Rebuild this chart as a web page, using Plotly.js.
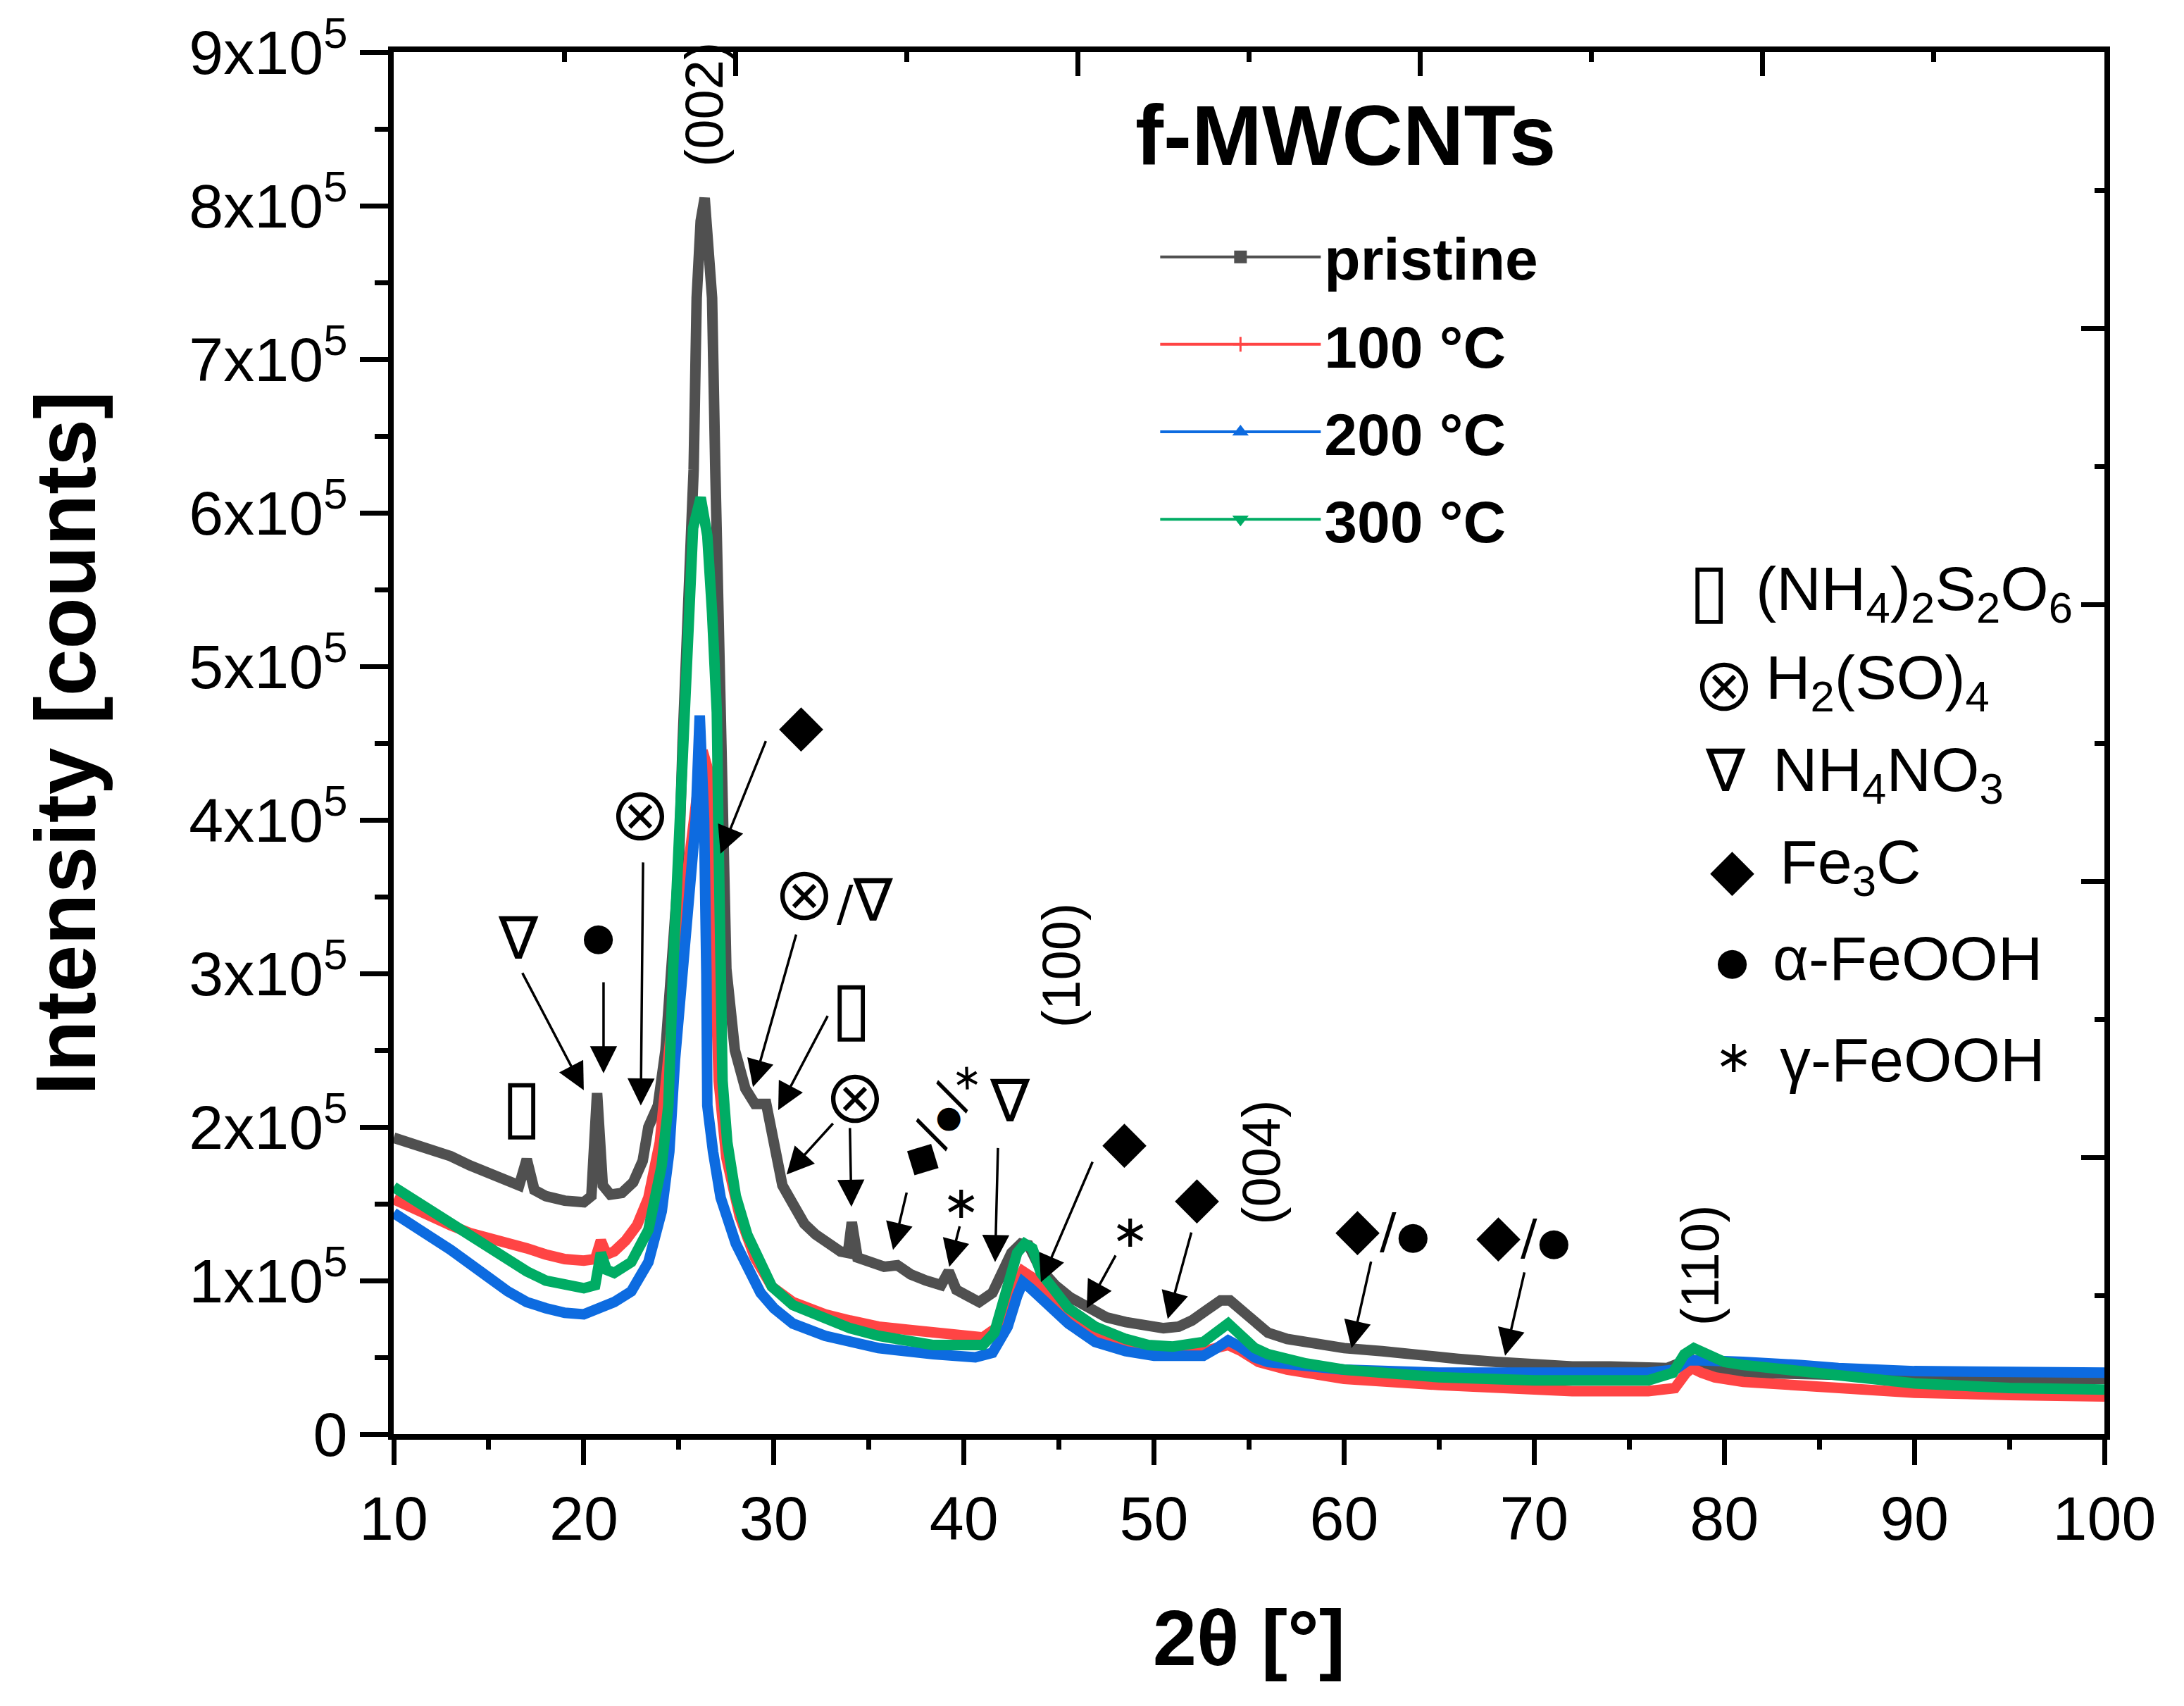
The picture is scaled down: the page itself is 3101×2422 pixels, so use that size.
<!DOCTYPE html>
<html>
<head>
<meta charset="utf-8">
<script src="https://cdn.plot.ly/plotly-3.0.1.min.js"></script>
<style>html,body{margin:0;padding:0;background:#fff}#chart{width:3101px;height:2422px}</style>
</head>
<body>
<div id="chart"></div>
<script>
// ---------------- DATA (intensity values in units of 1e5 counts) ----------------
const SCALE = 1e5;
const seriesNames = ['pristine', '100 °C', '200 °C', '300 °C'];

const xPristine = [10,11,12,13,14,15,16,16.6,17.0,17.4,18,19,20,20.4,20.7,21.0,21.4,22,22.6,23.1,23.4,23.9,24.3,24.7,25.0,25.2,25.5,25.78,25.94,26.15,26.36,26.55,26.75,26.92,27.08,27.25,27.4,27.5,27.95,28.5,29.0,29.6,30.0,30.45,31.0,31.6,32.2,32.8,33.5,33.9,34.1,34.4,35,35.8,36.5,37.2,38,38.8,39.2,39.6,40.2,40.8,41.5,42,42.5,43,43.4,44,44.8,45.6,46.5,47.5,48.5,49.5,50.5,51.3,52,52.8,53.5,54,54.6,55.3,56,57,58,59,60,62,64,66,68,70,72,74,76,77,77.6,78.2,78.8,79.5,81,84,88,92,96,100];
const iPristine = [1.93,1.89,1.85,1.81,1.75,1.70,1.64,1.62,1.79,1.59,1.55,1.52,1.51,1.55,2.22,1.62,1.56,1.57,1.64,1.78,2.00,2.14,2.50,3.10,3.70,4.50,5.40,6.28,7.40,7.90,8.05,7.80,7.40,6.28,5.49,4.70,4.10,3.03,2.50,2.25,2.15,2.15,1.90,1.62,1.50,1.37,1.30,1.24,1.19,1.18,1.38,1.15,1.12,1.09,1.10,1.04,1.00,0.97,1.06,0.94,0.90,0.86,0.92,1.05,1.18,1.24,1.23,1.08,0.97,0.89,0.82,0.76,0.73,0.71,0.69,0.70,0.74,0.81,0.87,0.87,0.80,0.72,0.66,0.62,0.60,0.58,0.56,0.54,0.51,0.49,0.47,0.45,0.44,0.44,0.43,0.43,0.46,0.49,0.46,0.42,0.40,0.39,0.38,0.37,0.36,0.36];

const x100C = [10,11,12,13,14,15,16,17,18,19,20,20.6,20.9,21.2,21.6,22.2,22.8,23.4,24.0,24.5,24.9,25.3,25.7,25.95,26.25,26.6,26.75,26.9,27.1,27.5,28.2,29.0,29.9,31,32.7,34,35.5,37,38.4,40,41,41.8,42.5,43.1,43.6,44.1,45.5,46.9,48,49.7,51,52.6,53.3,53.9,54.6,55.5,57,60,65,70,72,76,77.4,78.0,78.3,78.8,79.5,81,84,86,90,95,100];
const i100C = [1.53,1.47,1.41,1.36,1.31,1.28,1.25,1.21,1.17,1.14,1.13,1.14,1.26,1.17,1.19,1.26,1.36,1.54,1.90,2.44,3.00,3.50,3.90,4.20,4.45,4.30,3.80,3.00,2.30,1.80,1.42,1.15,0.96,0.86,0.78,0.74,0.70,0.68,0.66,0.64,0.63,0.70,0.90,1.06,1.02,0.95,0.76,0.64,0.59,0.55,0.53,0.54,0.57,0.58,0.54,0.47,0.42,0.36,0.32,0.29,0.28,0.28,0.30,0.40,0.43,0.40,0.37,0.34,0.32,0.31,0.27,0.255,0.245];

const x200C = [10,11,12,13,14,15,16,17,18,19,20,20.9,21.6,22.5,23.4,24.1,24.5,24.8,25.2,25.6,25.89,26.1,26.33,26.45,26.5,26.8,27.2,28.0,29.3,30,31,32.7,35.5,38.4,40.6,41.5,42.3,42.8,43.1,43.5,44.05,45.5,46.9,48.5,50,52.6,53.3,53.9,54.5,55.3,56,58,60,65,70,76,77.4,78.1,78.8,80,81,84,86,90,95,100];
const i200C = [1.44,1.35,1.28,1.20,1.10,1.02,0.93,0.86,0.82,0.79,0.78,0.82,0.86,0.93,1.12,1.45,1.84,2.44,3.00,3.60,4.00,4.68,4.00,3.00,2.14,1.84,1.54,1.24,0.92,0.82,0.72,0.64,0.56,0.52,0.50,0.53,0.70,0.90,0.99,0.95,0.88,0.72,0.60,0.54,0.51,0.51,0.56,0.61,0.57,0.50,0.47,0.44,0.42,0.40,0.40,0.40,0.42,0.48,0.48,0.48,0.47,0.45,0.43,0.41,0.40,0.40];

const x300C = [10,11,12,13,14,15,16,17,18,19,20,20.6,20.9,21.2,21.6,22.5,23.4,24.1,24.45,24.7,25.1,25.3,25.45,25.75,26.15,26.5,26.75,27.0,27.1,27.15,27.3,27.55,28.0,28.6,29.3,29.9,31,32.7,34,35.5,37,38.4,40,41,41.6,42.3,42.8,43.2,43.6,44.05,45.5,46.9,48.5,49.7,51,52.6,53.3,53.9,54.6,55.3,56,58,60,65,70,76,77.3,77.9,78.4,79,80,81,84,86,90,95,100];
const i300C = [1.61,1.53,1.45,1.37,1.28,1.20,1.12,1.06,1.00,0.97,0.95,0.97,1.18,1.07,1.05,1.12,1.33,1.75,2.14,3.03,4.10,4.70,5.20,5.90,6.10,5.85,5.35,4.70,3.80,3.00,2.30,1.90,1.55,1.30,1.12,0.96,0.84,0.75,0.69,0.64,0.61,0.58,0.58,0.58,0.66,0.95,1.18,1.24,1.21,1.05,0.82,0.70,0.62,0.58,0.57,0.60,0.67,0.72,0.64,0.56,0.52,0.46,0.42,0.37,0.35,0.35,0.40,0.52,0.56,0.52,0.47,0.45,0.41,0.38,0.33,0.30,0.29];

const xTickVals = [10,20,30,40,50,60,70,80,90,100];
const yTickVals = [0,1,2,3,4,5,6,7,8,9];
const yTickText = ['0','1x10<sup>5</sup>','2x10<sup>5</sup>','3x10<sup>5</sup>','4x10<sup>5</sup>','5x10<sup>5</sup>','6x10<sup>5</sup>','7x10<sup>5</sup>','8x10<sup>5</sup>','9x10<sup>5</sup>'];

const phaseNames = ['(NH<sub>4</sub>)<sub>2</sub>S<sub>2</sub>O<sub>6</sub>','H<sub>2</sub>(SO)<sub>4</sub>','NH<sub>4</sub>NO<sub>3</sub>','Fe<sub>3</sub>C','α-FeOOH','γ-FeOOH'];
const phaseSymbols = ['▯','⊗','∇','◆','●','∗'];
const millerLabels = ['(002)','(100)','(004)','(110)'];

// ---------------- STYLE ----------------
const FONT = 'Liberation Sans, Arial, Helvetica, sans-serif';
const SYMFONT = 'DejaVu Sans, Liberation Sans, sans-serif';
const THINFONT = 'Noto Sans CJK SC, Noto Sans, DejaVu Sans, sans-serif';
const colors = ['#505050', '#FF4444', '#0D6BE0', '#00AC64'];
const legendSymbols = ['square', 'cross-thin', 'triangle-up', 'triangle-down'];
const symSize = [105, 92, 84, 82, 54, 64];   // per phase symbol glyph size
const symFont = [SYMFONT, THINFONT, SYMFONT, SYMFONT, SYMFONT, SYMFONT];
const xs = [xPristine, x100C, x200C, x300C];
const is = [iPristine, i100C, i200C, i300C];

const traces = [];
for (let k = 0; k < 4; k++) {
  traces.push({
    x: xs[k], y: is[k].map(v => v * SCALE),
    type: 'scatter', mode: 'lines',
    line: {color: colors[k], width: 15},
    showlegend: false, hoverinfo: 'skip'
  });
}
for (let k = 0; k < 4; k++) {
  traces.push({
    x: [null], y: [null], xaxis: 'x2', yaxis: 'y2',
    type: 'scatter', mode: 'lines+markers',
    name: '<b>' + seriesNames[k] + '</b>',
    legendgroup: 'g' + k,
    line: {color: colors[k], width: 4},
    marker: {symbol: legendSymbols[k], size: 15, color: colors[k], line: {color: colors[k], width: 3}}
  });
}

// ---------------- ANNOTATIONS ----------------
const ann = [];
function dataText(text, x, y, size, opts) {
  ann.push(Object.assign({text: text, x: x, y: y * SCALE, xref: 'x', yref: 'y', showarrow: false,
    font: {family: FONT, size: size, color: '#000'}, xanchor: 'center', yanchor: 'middle'}, opts || {}));
}
function symSpan(k, scale) {
  return '<span style="font-size:' + Math.round(symSize[k] * (scale || 1)) + 'px;font-family:' + symFont[k] + '">' + phaseSymbols[k] + '</span>';
}
function sym(k, x, y) {
  ann.push({text: phaseSymbols[k], x: x, y: y * SCALE, xref: 'x', yref: 'y', showarrow: false,
    font: {family: symFont[k], size: symSize[k], color: '#000'}, xanchor: 'center', yanchor: 'middle'});
}
function symGroup(ks, x, y, angle, scale) {
  const txt = ks.map(k => symSpan(k, scale)).join('<span style="font-size:70px">/</span>');
  ann.push({text: txt, x: x, y: y * SCALE, xref: 'x', yref: 'y', showarrow: false, textangle: angle || 0,
    font: {family: SYMFONT, size: 60, color: '#000'}, xanchor: 'center', yanchor: 'middle'});
}
function arrow(x0, y0, x1, y1) {
  ann.push({text: '', x: x1, y: y1 * SCALE, ax: x0, ay: y0 * SCALE, xref: 'x', yref: 'y', axref: 'x', ayref: 'y',
    showarrow: true, arrowhead: 2, arrowsize: 2.2, arrowwidth: 3.5, arrowcolor: '#000', standoff: 0});
}

// title
dataText('<b>f-MWCNTs</b>', 60.09, 8.46, 120);
// Miller indices (rotated)
dataText(millerLabels[0], 26.30, 8.66, 76, {textangle: -90});
dataText(millerLabels[1], 45.09, 3.05, 76, {textangle: -90});
dataText(millerLabels[2], 55.60, 1.77, 76, {textangle: -90});
dataText(millerLabels[3], 78.70, 1.10, 76, {textangle: -90});

// phase markers inside the plot
sym(0, 16.74, 2.14);
sym(2, 16.56, 3.23);
sym(4, 20.78, 3.24);
sym(1, 22.97, 4.05);
sym(3, 31.42, 4.62);
symGroup([1, 2], 33.12, 3.53, 0, 1);
sym(0, 34.08, 2.78);
sym(1, 34.27, 2.21);
symGroup([3, 4, 5], 38.71, 2.06, -62, 0.8);
sym(5, 39.86, 1.51);
sym(2, 42.42, 2.17);
sym(3, 48.46, 1.91);
sym(5, 48.76, 1.32);
sym(3, 52.24, 1.55);
symGroup([3, 4], 62.02, 1.34, 0, 1);
symGroup([3, 4], 69.43, 1.30, 0, 1);

// arrows (tail -> head)
arrow(16.74, 3.01, 20.0, 2.24);
arrow(21.04, 2.95, 21.04, 2.35);
arrow(23.12, 3.73, 23.0, 2.14);
arrow(29.6, 4.52, 27.19, 3.78);
arrow(31.19, 3.26, 28.9, 2.26);
arrow(32.86, 2.73, 30.23, 2.11);
arrow(33.16, 2.03, 30.67, 1.69);
arrow(34.0, 2.0, 34.08, 1.48);
arrow(37.0, 1.58, 36.27, 1.20);
arrow(39.79, 1.36, 39.23, 1.09);
arrow(41.79, 1.87, 41.64, 1.12);
arrow(46.79, 1.78, 44.05, 0.99);
arrow(48.01, 1.17, 46.46, 0.82);
arrow(51.98, 1.32, 50.72, 0.75);
arrow(61.43, 1.13, 60.39, 0.56);
arrow(69.5, 1.06, 68.47, 0.51);

// phase key on the right
const keySymX = [79.21, 79.99, 80.06, 80.40, 80.40, 80.50];
const keySymY = [5.50, 4.89, 4.32, 3.68, 3.08, 2.46];
const keyTxtX = [81.58, 82.10, 82.47, 82.84, 82.47, 82.84];
const keyTxtY = [5.48, 4.90, 4.30, 3.70, 3.10, 2.44];
for (let k = 0; k < 6; k++) {
  sym(k, keySymX[k], keySymY[k]);
  dataText(phaseNames[k], keyTxtX[k], keyTxtY[k], 88, {xanchor: 'left'});
}

// ---------------- LAYOUT ----------------
const axisCommon = {showgrid: false, zeroline: false, showline: true, linecolor: '#000', linewidth: 8,
  tickcolor: '#000', tickwidth: 7};
const layout = {
  width: 3101, height: 2422,
  margin: {l: 559, r: 113, t: 74, b: 386, autoexpand: false},
  paper_bgcolor: '#fff', plot_bgcolor: '#fff',
  font: {family: FONT, color: '#000'},
  showlegend: true,
  legend: {x: 0.446, y: 0.883, xanchor: 'left', yanchor: 'top', bgcolor: 'rgba(0,0,0,0)',
    font: {family: FONT, size: 84, color: '#000'}, itemwidth: 228, tracegroupgap: 12, traceorder: 'grouped'},
  xaxis: Object.assign({}, axisCommon, {
    range: [10, 100], tickmode: 'array', tickvals: xTickVals, ticks: 'outside', ticklen: 36,
    tickfont: {family: FONT, size: 88, color: '#000'},
    minor: {tickmode: 'linear', tick0: 10, dtick: 5, ticks: 'outside', ticklen: 14, tickwidth: 7, tickcolor: '#000'},
    title: {text: '<b>2θ [°]</b>', font: {family: FONT, size: 112, color: '#000'}, standoff: 85}
  }),
  yaxis: Object.assign({}, axisCommon, {
    range: [0, 9 * SCALE], tickmode: 'array', tickvals: yTickVals.map(v => v * SCALE), ticktext: yTickText,
    ticks: 'outside', ticklen: 40,
    tickfont: {family: FONT, size: 88, color: '#000'},
    minor: {tickmode: 'linear', tick0: 0, dtick: 0.5 * SCALE, ticks: 'outside', ticklen: 19, tickwidth: 7, tickcolor: '#000'},
    title: {text: '<b>Intensity [counts]</b>', font: {family: FONT, size: 120, color: '#000'}, standoff: 95}
  }),
  xaxis2: Object.assign({}, axisCommon, {
    overlaying: 'x', side: 'top', anchor: 'y2', range: [10, 100], tickmode: 'linear', tick0: 10, dtick: 18,
    ticks: 'inside', ticklen: 34, showticklabels: false,
    minor: {tickmode: 'linear', tick0: 10, dtick: 9, ticks: 'inside', ticklen: 14, tickwidth: 7, tickcolor: '#000'}
  }),
  yaxis2: Object.assign({}, axisCommon, {
    overlaying: 'y', side: 'right', anchor: 'x2', range: [0, 9 * SCALE], tickmode: 'linear', tick0: 0, dtick: 1.8 * SCALE,
    ticks: 'inside', ticklen: 33, showticklabels: false,
    minor: {tickmode: 'linear', tick0: 0, dtick: 0.9 * SCALE, ticks: 'inside', ticklen: 14, tickwidth: 7, tickcolor: '#000'}
  }),
  annotations: ann
};

Plotly.newPlot('chart', traces, layout, {staticPlot: true, displayModeBar: false});
</script>
</body>
</html>
